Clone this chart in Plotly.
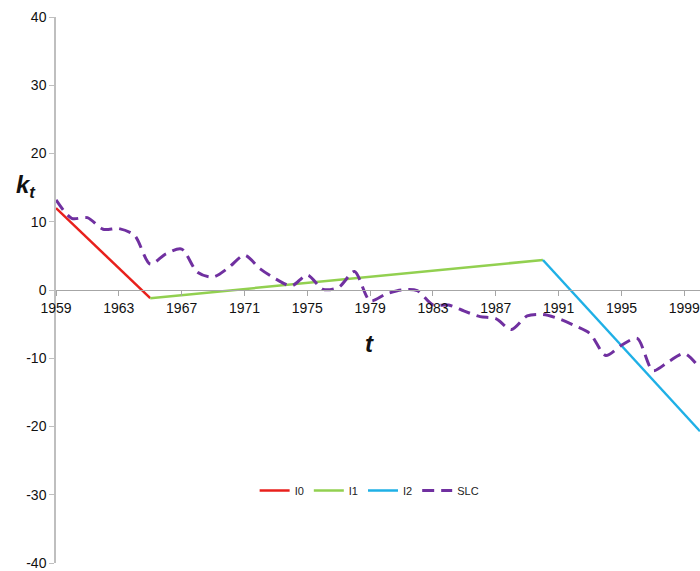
import plotly.graph_objects as go

# Data
years_slc = list(range(1959, 2001))
slc = [13.2, 10.5, 10.6, 8.9, 9.0, 8.0, 3.8, 5.3, 6.0, 2.6, 1.9, 3.3, 5.1, 3.1, 1.6, 0.6,
       2.2, 0.1, 0.4, 2.7, -1.6, -0.6, 0.0, -0.1, -2.2, -2.2, -3.1, -3.9, -4.2, -5.8,
       -3.8, -3.6, -4.2, -5.2, -6.4, -9.6, -8.1, -7.1, -11.8, -10.5, -9.3, -11.5]
i0_x = [1959, 1965]
i0_y = [12.0, -1.2]
i1_x = [1965, 1990]
i1_y = [-1.2, 4.4]
i2_x = [1990, 2000]
i2_y = [4.4, -20.7]
x_ticks = list(range(1959, 2000, 4))
y_ticks = list(range(-40, 41, 10))

fig = go.Figure()
fig.add_trace(go.Scatter(x=i0_x, y=i0_y, mode="lines", name="I0",
                         line=dict(color="#e8201c", width=2.5)))
fig.add_trace(go.Scatter(x=i1_x, y=i1_y, mode="lines", name="I1",
                         line=dict(color="#92d050", width=2.5)))
fig.add_trace(go.Scatter(x=i2_x, y=i2_y, mode="lines", name="I2",
                         line=dict(color="#1fb0e6", width=2.5)))
fig.add_trace(go.Scatter(x=years_slc, y=slc, mode="lines", name="SLC",
                         line=dict(color="#7030a0", width=3, dash="12px,7px",
                                   shape="spline", smoothing=0.8)))

fig.update_layout(
    width=700, height=571,
    margin=dict(l=56, r=0, t=17, b=6),
    paper_bgcolor="white", plot_bgcolor="white",
    font=dict(family="Liberation Sans, Arial", size=14, color="#222"),
    showlegend=True,
    legend=dict(orientation="h", x=0.487, y=0.133, xanchor="center", yanchor="middle",
                font=dict(size=11, color="#222"), itemwidth=30, tracegroupgap=0),
    xaxis=dict(range=[1959, 2000], tickvals=x_ticks, ticktext=[str(v) for v in x_ticks],
               showgrid=False, zeroline=False, showline=True, linecolor="#a6a6a6",
               linewidth=1.3, ticks="outside", ticklen=5, tickcolor="#a6a6a6",
               anchor="free", position=0.5, ticklabeloverflow="allow",
               tickfont=dict(size=14, color="#111")),
    yaxis=dict(range=[-40, 40], tickvals=y_ticks, ticktext=[str(v) for v in y_ticks],
               showgrid=False, zeroline=False,
               showline=True, linecolor="#bfbfbf", linewidth=1.5, ticks="outside",
               ticklen=5, tickcolor="#bfbfbf", ticklabeloverflow="allow",
               tickfont=dict(size=14, color="#111")),
    annotations=[
        dict(text="<b><i>k<sub>t</sub></i></b>", xref="paper", yref="paper",
             x=-0.047, y=(565 - 187) / 548, xanchor="center", yanchor="middle",
             showarrow=False, font=dict(size=24, color="#111")),
        dict(text="<b><i>t</i></b>", xref="paper", yref="paper",
             x=(369 - 56) / 644, y=(565 - 345) / 548, xanchor="center", yanchor="middle",
             showarrow=False, font=dict(size=24, color="#111")),
    ],
)

fig.write_html("out.html")
